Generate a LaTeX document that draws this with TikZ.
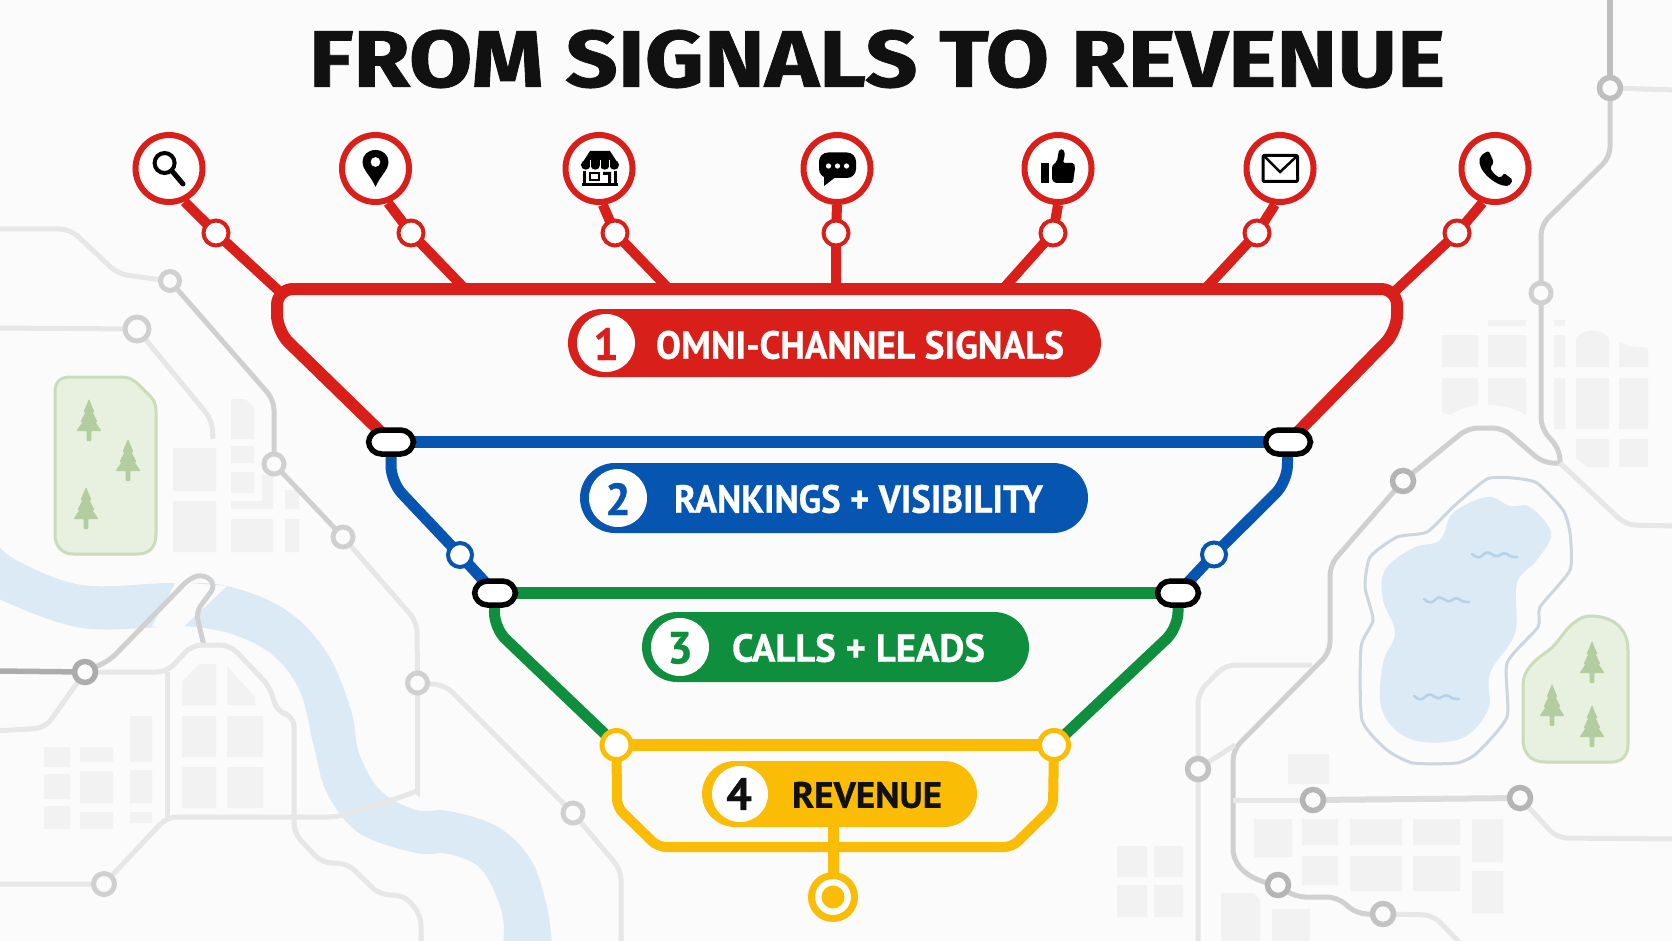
\documentclass[tikz,border=0pt]{standalone}
\usepackage{fontspec}
\usepackage{graphicx}
\setmainfont[BoldFeatures={FakeBold=0.7}]{PT Sans}
\newfontfamily\titlefont[BoldFeatures={FakeBold=0.9}]{Fira Sans}
\pgfdeclarelayer{mapl}\pgfdeclarelayer{mapn}\pgfdeclarelayer{lines}
\pgfsetlayers{mapl,mapn,lines,main}
\definecolor{bgc}{HTML}{FBFBFB}
\definecolor{cred}{HTML}{D91F1A}
\definecolor{cblue}{HTML}{0655B0}
\definecolor{cgreen}{HTML}{0F8F3E}
\definecolor{cyellow}{HTML}{FBBC05}
\definecolor{cink}{HTML}{111111}
\definecolor{riverc}{HTML}{DCEAF6}
\definecolor{riverw}{HTML}{B5D2EA}
\definecolor{shorec}{HTML}{CDD5DF}
\definecolor{parkf}{HTML}{E8F1E0}
\definecolor{parkd}{HTML}{CADCBB}
\definecolor{treec}{HTML}{B3CDA0}
\definecolor{blockc}{HTML}{F2F2F2}
\definecolor{mlight}{HTML}{E7E7E7}
\definecolor{mmid}{HTML}{D0D0D0}
\definecolor{mdark}{HTML}{ACACAC}
\definecolor{gb}{HTML}{B5B5B5}
\definecolor{gc}{HTML}{BEBEBE}
\definecolor{gd}{HTML}{C3C3C3}
\definecolor{ge}{HTML}{DCDCDC}
\tikzset{
  x=1pt,y=-1pt,
  maplight/.style={draw=mlight,line width=5pt,rounded corners=10pt},
  mapmid/.style={draw=mmid,line width=5pt,rounded corners=10pt},
  mapdark/.style={draw=mdark,line width=5.5pt,rounded corners=10pt},
  mstn/.style={circle,draw=mmid,fill=bgc,line width=5pt,inner sep=0pt,minimum size=#1},
  dstn/.style={circle,draw=#1,fill=bgc,line width=5.5pt,inner sep=0pt,minimum size=21pt},
  block/.style={fill=blockc},
  parkshape/.style={fill=parkf,draw=parkd,line width=3pt},
  wavy/.style={draw=#1,line width=2.6pt,line cap=round},
  iconstn/.style={circle,draw=cred,fill=white,line width=6pt,inner sep=0pt,minimum size=67pt},
  smallstn/.style={circle,draw=#1,fill=white,line width=4pt,inner sep=0pt,minimum size=25pt},
  bigstn/.style={circle,draw=cyellow,fill=white,line width=5pt,inner sep=0pt,minimum size=30pt},
  interchange/.style={rectangle,rounded corners=13pt,draw=black,fill=white,line width=5.5pt,inner sep=0pt,minimum width=#1,minimum height=24pt},
  route/.style={draw=#1,line width=12pt,rounded corners=16pt},
  spoke/.style={draw=cred,line width=10pt},
  pill/.style={rectangle,fill=#1,inner sep=0pt},
  numdisc/.style={circle,fill=white,inner sep=0pt,minimum size=#1},
  numeral/.style={text=#1,inner sep=0pt,font=\bfseries\fontsize{45}{45}\selectfont},
}
\newcommand{\maptree}[2]{%
  \fill[treec,shift={(#1,#2)},rounded corners=0.8pt] (0,0) -- (5.5,13) -- (3.6,13) -- (8.5,23) -- (6.5,23) -- (12.5,32) -- (2.3,32) -- (2.3,42) -- (-2.3,42) -- (-2.3,32) -- (-12.5,32) -- (-6.5,23) -- (-8.5,23) -- (-3.6,13) -- (-5.5,13) -- cycle;}
\newcommand{\mapwave}[2]{%
  \draw[wavy=riverw,shift={(#1,#2)}] (0,0) .. controls (6,5) and (8,4) .. (12,0) .. controls (15,-3) and (18,-1) .. (23,2) .. controls (27,4) and (30,-3) .. (35,0) .. controls (38,3) and (41,3) .. (45,3);}
\newcommand{\pilltext}[3]{\resizebox{#1pt}{#2pt}{\bfseries #3}}
\begin{document}
\begin{tikzpicture}
\useasboundingbox (0,0) rectangle (1672,941);
\begin{pgfonlayer}{mapl}
\fill[bgc] (0,0) rectangle (1672,941);
% river
\fill[riverc] plot[smooth,tension=.6] coordinates {(-5,541) (16,560) (82,585) (171,583) (227,586) (286,610) (327,653) (351,710) (359,753) (380,790) (416,810) (449,811) (498,827) (531,860) (547,907) (552,945)}
  -- plot[smooth,tension=.6] coordinates {(503,945) (502,913) (482,870) (449,854) (416,853) (359,833) (327,793) (314,747) (298,687) (261,647) (196,627) (82,628) (-5,597)} -- cycle;
\fill[bgc] (176,582) -- (227,586) -- (180,630) -- (152,626) -- cycle;
% lake
\fill[riverc] plot[smooth cycle,tension=.6] coordinates {(1487,497) (1510,506) (1530,507) (1551,533) (1537,560) (1517,583) (1515,633) (1490,673) (1488,710) (1460,739) (1410,739) (1382,710) (1383,663) (1395,633) (1383,600) (1385,570) (1413,548) (1440,540) (1453,513)};
\draw[draw=shorec,line width=3pt] plot[smooth cycle,tension=.35] coordinates {(1487,479) (1513,478) (1537,483) (1563,510) (1570,533) (1570,570) (1540,607) (1538,627) (1507,663) (1507,717) (1477,753) (1457,763) (1413,763) (1387,750) (1362,720) (1361,647) (1373,620) (1365,587) (1370,557) (1397,537) (1427,532) (1453,507)};
\mapwave{1472}{554}\mapwave{1424}{599}\mapwave{1414}{696}
% parks
\draw[parkshape] (55,392) .. controls (55,382) and (60,377) .. (70,377) -- (120,377) .. controls (130,377) and (134,380) .. (140,386) -- (150,396) .. controls (154,400) and (156,404) .. (156,412) -- (156,535) .. controls (156,548) and (148,554) .. (138,554) -- (73,554) .. controls (62,554) and (55,546) .. (55,535) -- cycle;
\draw[parkshape] (1590,616) .. controls (1615,616) and (1628,630) .. (1628,650) -- (1628,745) .. controls (1628,755) and (1622,762) .. (1612,762) -- (1545,762) .. controls (1530,762) and (1523,752) .. (1523,740) -- (1523,685) .. controls (1523,670) and (1535,660) .. (1545,653) .. controls (1560,643) and (1563,630) .. (1575,622) .. controls (1580,618) and (1585,616) .. (1590,616) -- cycle;
\maptree{89}{399}\maptree{128}{439}\maptree{86}{487}
\maptree{1592}{641}\maptree{1552}{684}\maptree{1592}{705}
% buildings, left
\fill[block] (173,448) rectangle (216,491) (173,501) rectangle (216,552);
\fill[block] (231,399) -- (245,399) -- (254,408) -- (254,439) -- (231,439) -- cycle;
\fill[block] (231,446) rectangle (254,463) (231,472) rectangle (254,493);
\fill[block] (262,475) -- (273,475) -- (273,509) -- (231,509) -- (231,501) -- (262,501) -- cycle;
\fill[block] (285,490) rectangle (299,509) (231,519) rectangle (273,552) (285,519) rectangle (299,552);
\fill[block] (182,682) -- (199,664) -- (216,664) -- (216,705) -- (182,705) -- cycle;
\fill[block] (227,666) -- (255,697) -- (255,705) -- (227,705) -- cycle;
\fill[block] (182,716) rectangle (216,757) (227,716) rectangle (263,757) (182,767) rectangle (216,808) (227,767) rectangle (263,808);
\fill[block] (44,747) rectangle (70,767) (80,747) rectangle (113,762) (130,716) rectangle (152,762);
\fill[block] (44,774) rectangle (70,799) (80,771) rectangle (113,803) (130,770) rectangle (152,803);
\fill[block] (44,806) rectangle (70,829) (80,812) rectangle (113,829) (130,812) rectangle (152,823);
% buildings, upper right
\fill[block] (1442,335) rectangle (1478,367) (1488,335) rectangle (1526,367) (1488,320) rectangle (1526,326) (1554,320) rectangle (1565,326) (1554,335) rectangle (1565,367);
\fill[block] (1576,367) -- (1576,338) .. controls (1585,328) and (1600,328) .. (1609,338) -- (1609,367) -- cycle;
\fill[block] (1619,342) -- (1630,346) -- (1648,348) -- (1648,367) -- (1619,367) -- cycle;
\fill[block] (1442,378) -- (1478,378) -- (1478,405) .. controls (1465,407) and (1458,410) .. (1450,415) -- (1442,412) -- cycle;
\fill[block] (1488,378) -- (1526,378) -- (1526,415) .. controls (1515,408) and (1500,405) .. (1488,405) -- cycle;
\fill[block] (1554,378) rectangle (1565,429) (1576,378) rectangle (1609,429) (1619,378) rectangle (1648,429);
\fill[block] (1576,439) -- (1609,439) -- (1609,467) -- (1587,467) -- (1576,458) -- cycle;
\fill[block] (1619,439) rectangle (1648,467);
% buildings, lower right
\fill[block] (1288,754) rectangle (1329,784) (1254,819) rectangle (1292,857) (1302,819) rectangle (1338,845) (1350,819) rectangle (1402,845) (1413,819) rectangle (1460,845) (1472,819) rectangle (1503,862);
\fill[block] (1302,856) rectangle (1338,885) (1350,856) rectangle (1402,891) (1413,856) rectangle (1460,891) (1472,871) rectangle (1503,913);
\fill[block] (1117,846) rectangle (1147,877) (1154,846) rectangle (1183,877) (1117,885) rectangle (1147,917) (1154,885) rectangle (1183,917);
\fill[block] (1221,893) -- (1254,893) -- (1260,901) -- (1260,941) -- (1221,941) -- cycle;
\fill[block] (1272,909) rectangle (1310,941);
\end{pgfonlayer}

\begin{pgfonlayer}{mapn}
\node[mstn=19pt] (m1) at (170,281) {};
\node[mstn=24pt] (m2) at (137,329) {};
\node[mstn=20pt] (m3) at (274,464) {};
\node[mstn=20pt] (m4) at (343,537) {};
\node[dstn=mdark] (m5) at (85,672) {};
\node[mstn=21pt] (m6) at (104,884) {};
\node[mstn=20pt] (m7) at (417.5,683) {};
\node[mstn=20pt] (m8) at (573,813) {};
\node[dstn=gb] (m9) at (1403,481) {};
\node[dstn=gc] (m10) at (1610,88) {};
\node[mstn=20pt] (m11) at (1541,293) {};
\node[dstn=gd] (m12) at (1198,769) {};
\node[dstn=gb] (m13) at (1313,800) {};
\node[dstn=gb] (m14) at (1520,798) {};
\node[dstn=gb] (m15) at (1278,885) {};
\node[dstn=gd] (m16) at (1383,914) {};
\end{pgfonlayer}

\begin{pgfonlayer}{mapl}
% left map lines
\draw[maplight] (-5,229) -- (70,229) -- (118,274) -- (m1.center);
\draw[mapmid] (m1.center) -- (274,400) -- (m3.center) -- (m4.center);
\draw[maplight] (m4.center) -- (417,622) -- (m7.center) -- (417.5,782) .. controls (417.5,790) and (412,793) .. (404,796) -- (338,817) -- (167,817) -- (m6.center) -- (-5,884);
\draw[maplight] (-5,328) -- (m2.center) -- (212,420) -- (213,439);
\draw[mapdark] (-5,671) -- (m5.center);
\draw[mapmid,rounded corners=8pt] (m5.center) -- (110,660) -- (190,578) -- (204,574) -- (216,585) -- (196,612) -- (204,646);
\draw[maplight] (m5.center) -- (167,672) -- (192,645) -- (230,645) -- (270,687) -- (277,712) -- (294,716) -- (294,833) -- (322,863) -- (347,863) -- (380,895) -- (404,895) -- (421,915) -- (421,946);
\draw[maplight] (167,672) -- (167,817);
\draw[maplight] (m5.center) -- (45,728) -- (-5,731);
\draw[maplight] (m7.center) -- (445,685) -- (m8.center) -- (621,870) -- (621,946);
% right map lines
\draw[mapdark,draw=gc] (1610,-5) -- (m10.center);
\draw[maplight] (m10.center) -- (1677,90);
\draw[mapmid] (m10.center) -- (1610,157) -- (1541,225) -- (m11.center) -- (1541,428) -- (1560,450) -- (1560,463);
\draw[mapmid] (1233,848) .. controls (1233,870) and (1255,882) .. (m15.center);
\draw[mapmid] (m15.center) -- (1295,897) -- (1337,897) -- (1357,914) -- (m16.center);
\draw[maplight] (m16.center) -- (1433,915) -- (1462,945);
\draw[mapmid] (1233,848) -- (1233,750) -- (1330,652) -- (1330,565) -- (m9.center) -- (1468,428) -- (1503,428) -- (1543,463) -- (1560,463);
\draw[maplight] (1560,463) -- (1626,525) -- (1677,526);
\draw[maplight] (1198,946) -- (m12.center) -- (1198,693) -- (1225,665) -- (1312,665);
\draw[maplight] (m12.center) -- (1235,745);
\draw[maplight] (1233,800) -- (m13.center);
\draw[mapmid,draw=ge,line width=6pt] (m13.center) -- (m14.center);
\draw[maplight] (m14.center) -- (1557,838) -- (1677,839);
\end{pgfonlayer}

% ---- main nodes
\node[iconstn] (i1) at (169,168.5) {};
\node[iconstn] (i2) at (375.5,168.5) {};
\node[iconstn] (i3) at (599,168.5) {};
\node[iconstn] (i4) at (837,168.5) {};
\node[iconstn] (i5) at (1058,168.5) {};
\node[iconstn] (i6) at (1280,168.5) {};
\node[iconstn] (i7) at (1495,168.5) {};
\node[smallstn=cred] (s1) at (216,233) {};
\node[smallstn=cred] (s2) at (411,233) {};
\node[smallstn=cred] (s3) at (615,233) {};
\node[smallstn=cred] (s4) at (836,233) {};
\node[smallstn=cred] (s5) at (1053,233) {};
\node[smallstn=cred] (s6) at (1257,233) {};
\node[smallstn=cred] (s7) at (1457,233) {};
\coordinate (j1) at (279,291);
\coordinate (j2) at (465,289);
\coordinate (j3) at (669,289);
\coordinate (j4) at (836,289);
\coordinate (j5) at (1003,289);
\coordinate (j6) at (1205,289);
\coordinate (j7) at (1393,293);
\node[interchange=45pt] (xa) at (391,442) {};
\node[interchange=45pt] (xb) at (1288,442) {};
\node[interchange=41pt] (xc) at (495,593) {};
\node[interchange=41pt] (xd) at (1178,593) {};
\node[smallstn=cblue,minimum size=24pt] (b1) at (460,555) {};
\node[smallstn=cblue,minimum size=24pt] (b2) at (1214,554.5) {};
\node[smallstn=cyellow,minimum size=29pt,line width=5pt] (y1) at (616.5,745) {};
\node[smallstn=cyellow,minimum size=29pt,line width=5pt] (y2) at (1054,745) {};
\node[bigstn,minimum size=43pt,line width=7pt] (ye) at (833,897) {};
\fill[cyellow] (ye.center) circle (11.5pt);

\begin{pgfonlayer}{lines}
\foreach \i/\a in {1/-65,2/-70,3/-84,4/-90,5/-90,6/-98,7/-110} {\draw[spoke] (i\i.\a) -- (s\i.center) -- (j\i);}
\draw[route=cred] (xa.center) -- (277,331) -- (277,289) -- (1397,289) -- (1397,331) -- (xb.center);
\draw[route=cblue] (xa.center) -- (xb.center);
\draw[route=cblue,line width=11pt] (xa.center) -- (391,482) -- (b1.center) -- (xc.center);
\draw[route=cblue,line width=11pt] (xb.center) -- (1287,482) -- (b2.center) -- (xd.center);
\draw[route=cgreen] (xc.center) -- (xd.center);
\draw[route=cgreen,line width=11pt] (xc.center) -- (494,628) -- (y1.center);
\draw[route=cgreen,line width=11pt] (xd.center) -- (1178,628) -- (y2.center);
\draw[route=cyellow] (y1.center) -- (y2.center);
\draw[route=cyellow,line width=10pt,rounded corners=8pt] (y1.center) -- (617,807) -- (658,847) -- (1012,847) -- (1053,807) -- (y2.center);
\draw[draw=cyellow,line width=11pt] (833,800) -- (ye.center);
\end{pgfonlayer}

% ---- title
\node[inner sep=0pt,text=cink] (title) at (877,59) {\resizebox{1136pt}{57pt}{\titlefont\bfseries FROM SIGNALS TO REVENUE}};

% ---- pills
\node[pill=cred,rounded corners=34pt,minimum width=533pt,minimum height=68pt] (p1) at (834.5,343) {};
\node[numdisc=58pt] (n1) at (606,343) {};
\node[numeral=cred] (d1) at (606,344) {1};
\node[inner sep=0pt,text=white] (t1) at (860,345) {\pilltext{408}{28}{OMNI-CHANNEL SIGNALS}};

\node[pill=cblue,rounded corners=35pt,minimum width=508pt,minimum height=70pt] (p2) at (834,498) {};
\node[numdisc=58pt] (n2) at (618,498) {};
\node[numeral=cblue] (d2) at (618,499) {2};
\node[inner sep=0pt,text=white] (t2) at (858.5,499) {\pilltext{369}{28}{RANKINGS + VISIBILITY}};

\node[pill=cgreen,rounded corners=35pt,minimum width=387pt,minimum height=70pt] (p3) at (835.5,647) {};
\node[numdisc=58pt] (n3) at (680,647) {};
\node[numeral=cgreen] (d3) at (680,648) {3};
\node[inner sep=0pt,text=white] (t3) at (858.5,648) {\pilltext{253}{28}{CALLS + LEADS}};

\node[pill=cyellow,rounded corners=33pt,minimum width=275pt,minimum height=66pt] (p4) at (839.5,794) {};
\node[numdisc=56pt] (n4) at (740,794) {};
\node[numeral=cink] (d4) at (739,794) {4};
\node[inner sep=0pt,text=cink] (t4) at (867,795) {\pilltext{150}{26}{REVENUE}};

% ---- icons
% search
\draw[black,line width=4pt] (164.6,163) circle (10pt);
\draw[black,line width=5pt,line cap=round] (172,171) -- (183,184);
% pin
\fill[black,even odd rule] (375.5,187) .. controls (371,176) and (362.5,170) .. (362.5,162) .. controls (362.5,155) and (368,150) .. (375.5,150) .. controls (383,150) and (388.5,155) .. (388.5,162) .. controls (388.5,170) and (380,176) .. (375.5,187) -- cycle (375.5,162) circle (5pt);
% store
\fill[black] (590,151) -- (610,151) -- (619,165) -- (581,165) -- cycle;
\fill[black] (585.75,165) circle (4.75pt) (595.25,165) circle (4.75pt) (604.75,165) circle (4.75pt) (614.25,165) circle (4.75pt);
\draw[white,line width=1pt] (590.5,160) -- (590.5,170) (600,160) -- (600,170) (609.5,160) -- (609.5,170);
\draw[black,line width=2.8pt] (584.5,171) -- (584.5,184) -- (615.5,184) -- (615.5,171);
\fill[black] (582,183) rectangle (618,186.5);
\draw[black,line width=2.2pt] (590,173) rectangle (599,180);
\fill[black] (603,172) -- (611,172) -- (611,184) -- (608,184) -- (608,175) -- (603,175) -- cycle;
% chat
\fill[black,rounded corners=9pt] (819,152.5) rectangle (856,178);
\fill[black] (824,174) -- (824,186) -- (837,176) -- cycle;
\fill[white] (828.5,166) circle (2.6pt) (837.5,166) circle (2.6pt) (846.5,166) circle (2.6pt);
% thumb
\fill[black] (1040.5,163) rectangle (1048.5,183);
\fill[black,rounded corners=1.5pt] (1052,166) -- (1057,161) -- (1059,150) -- (1063,149) -- (1065,154) -- (1063,163) -- (1074,163) -- (1075,168) -- (1073,183) -- (1055,183) -- (1052,180) -- cycle;
% envelope
\draw[black,line width=3pt,rounded corners=1pt,line join=round] (1263,155.5) rectangle (1297.5,181.5);
\draw[black,line width=2.5pt] (1264,156) -- (1280,172) -- (1297,156);
% phone
\fill[black,rounded corners=2pt] (1484,153) -- (1489,151) -- (1494,163) -- (1490,167) .. controls (1492,172) and (1496,176) .. (1501,178) -- (1504,173) -- (1513,180) -- (1509,186) .. controls (1495,186) and (1477,170) .. (1480,157) -- cycle;
\end{tikzpicture}
\end{document}
